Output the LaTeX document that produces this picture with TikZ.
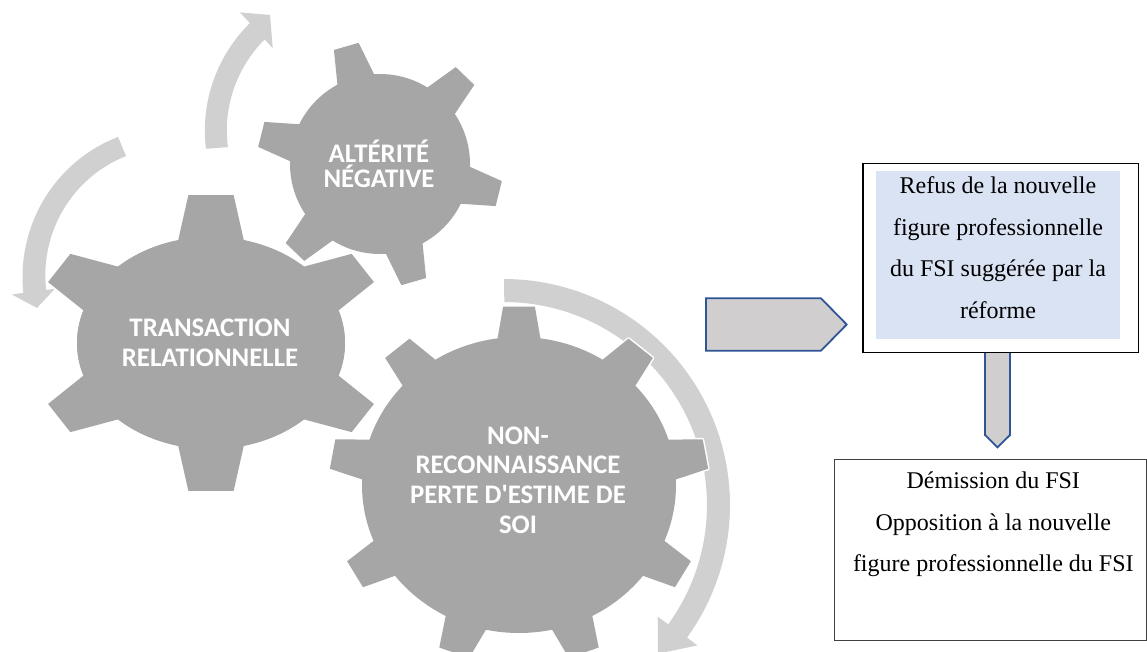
\documentclass[tikz,border=0pt]{standalone}
\usepackage{fontspec}
\setmainfont{Liberation Serif}
\newfontfamily\gearfont{Carlito}
\definecolor{gearfill}{HTML}{A6A6A6}
\definecolor{loopfill}{HTML}{D0D0D0}
\definecolor{blockfill}{HTML}{D0CECE}
\definecolor{blockline}{HTML}{2F5597}
\definecolor{notefill}{HTML}{DAE3F3}
\definecolor{framegray}{HTML}{404040}

% one gear: ellipse body plus trapezoid teeth
% #1 style, #2 #3 centre, #4 #5 radii, #6 tooth reach, #7 half tip angle, #8 half root angle, #9 tooth angles
\newcommand\gearparts[9]{%
  \path[#1] (#2,#3) ellipse[x radius=#4, y radius=#5];
  \foreach \a in {#9}{%
    \path[#1] (#2,#3)
      -- ({#2+0.98*#4*cos(\a-#8)},{#3-0.98*#5*sin(\a-#8)})
      -- ({#2+#6*#4*cos(\a-#7)},{#3-#6*#5*sin(\a-#7)})
      -- ({#2+#6*#4*cos(\a+#7)},{#3-#6*#5*sin(\a+#7)})
      -- ({#2+0.98*#4*cos(\a+#8)},{#3-0.98*#5*sin(\a+#8)}) -- cycle;
  }%
}

\tikzset{
  gearbody/.style={fill=gearfill},
  gearedge/.style={draw=white, line width=3pt, line join=round},
  loop/.style={fill=loopfill},
  gearlabel/.style={text=white, font=\gearfont\bfseries\fontsize{26.8}{29.7}\selectfont,
    align=center, inner sep=0pt},
  block/.style={fill=blockfill, draw=blockline, line width=1.8pt, line join=miter},
  notetext/.style={font=\fontsize{24}{41.5}\selectfont, align=center, inner sep=0pt, anchor=north},
  frame/.style={fill=white, inner sep=0pt, anchor=north west},
}

\begin{document}
\begin{tikzpicture}[x=1pt,y=-1pt]
\useasboundingbox (0,0) rectangle (1147,652);
\clip (0,0) rectangle (1147,652);

% circular arrows
\begin{scope}[shift={(353,138)}]
  \fill[loop] plot[domain=0:1,samples=40,variable=\t] ({175.8+52.3*\t}:{147.4+7*\t})
    -- (228.0:169) -- (236:148.4) -- (228.2:120.4)
    -- plot[domain=1:0,samples=40,variable=\t] ({175.8+52.3*\t}:{125.4+7*\t}) -- cycle;
\end{scope}
\begin{scope}[shift={(175,273)}]
  \fill[loop] plot[domain=0:1,samples=40,variable=\t] ({247.3-74.8*\t}:{147.5+5.5*\t})
    -- (172.5:164.6) -- (165.8:142.4) -- (172.5:121.2)
    -- plot[domain=1:0,samples=40,variable=\t] ({247.3-74.8*\t}:{126.8+3.2*\t}) -- cycle;
\end{scope}
\begin{scope}[shift={(504,505)}]
  \fill[loop] plot[domain=0:1,samples=60,variable=\t] ({270+126*\t}:{226})
    -- (36:239) -- (44:214) -- (36:190)
    -- plot[domain=1:0,samples=60,variable=\t] ({270+126*\t}:{203}) -- cycle;
\end{scope}

% gears
\gearparts{gearedge}{211}{343}{134}{106}{1.406}{6.9}{14.7}{90,-90}
\gearparts{gearedge}{211}{343}{134}{106}{1.345}{6.7}{14.7}{32,-32,148,-148}
\gearparts{gearbody}{211}{343}{134}{106}{1.406}{6.9}{14.7}{90,-90}
\gearparts{gearbody}{211}{343}{134}{106}{1.345}{6.7}{14.7}{32,-32,148,-148}

\gearparts{gearedge}{519}{485}{157}{148}{1.21}{4.8}{8.2}{90,50,10,-30,-70,-110,-150,170,130}
\gearparts{gearbody}{519}{485}{157}{148}{1.21}{4.8}{8.2}{90,50,10,-30,-70,-110,-150,170,130}

\gearparts{gearedge}{380}{164}{90}{90}{1.367}{6}{12.7}{106,46,-14,-74,-134,166}
\gearparts{gearbody}{380}{164}{90}{90}{1.367}{6}{12.7}{106,46,-14,-74,-134,166}

% gear labels
\node[gearlabel] (transaction) at (210,343) {TRANSACTION\\RELATIONNELLE};
\node[gearlabel, font=\gearfont\bfseries\fontsize{26.8}{25.5}\selectfont] (alterite) at (379,164) {ALTÉRITÉ\\NÉGATIVE};
\node[gearlabel] (reconnaissance) at (518,480) {NON-\\RECONNAISSANCE\\PERTE D'ESTIME DE\\SOI};

% block arrows
\draw[block] (706,298.3) -- (821,298.3) -- (846.7,324.5) -- (821,350.7) -- (706,350.7) -- cycle;
\draw[block] (985,351.7) -- (985,435) -- (997.5,447.3) -- (1010,435) -- (1010,351.7) -- cycle;

% outcome boxes
\node[frame, draw=black, line width=1.2pt, minimum width=275.4pt, minimum height=188.4pt]
  (refusframe) at (862.3,163.3) {};
\fill[notefill] (875.7,171) rectangle (1120,339);
\node[notetext] (refus) at (998,164.3)
  {\strut Refus de la nouvelle\\figure professionnelle\\du FSI suggérée par la\\réforme};

\node[frame, draw=framegray, line width=1.3pt, minimum width=312pt, minimum height=181pt]
  (demframe) at (834,459) {};
\node[notetext] (demission) at (993.3,459.3)
  {\strut Démission du FSI\\Opposition à la nouvelle\\figure professionnelle du FSI};
\end{tikzpicture}
\end{document}
